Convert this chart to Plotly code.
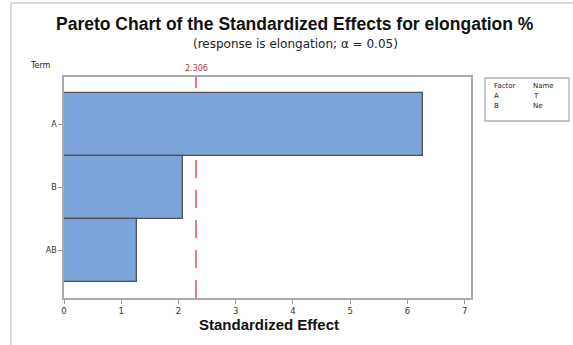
import plotly.graph_objects as go

terms = ["A", "B", "AB"]
effects = [6.28, 2.08, 1.28]
critical = 2.306
x_ticks = [0, 1, 2, 3, 4, 5, 6, 7]
factors = ["A", "B"]
names = ["T", "Ne"]

W, H = 573, 345
L, R, T, B = 64, 102, 77, 47
pw, ph = W - L - R, H - T - B

def px(x):
    return (x - L) / pw

def py(y):
    return (H - B - y) / ph

FONT = "Liberation Sans, Arial, sans-serif"
SMALL = "DejaVu Sans, sans-serif"

fig = go.Figure()
fig.add_trace(go.Bar(
    y=terms, x=effects, orientation="h",
    marker=dict(color="#7BA5D8", line=dict(color="#4d4f55", width=1.3)),
    width=1.0, showlegend=False, hoverinfo="skip",
))

shapes = [
    dict(type="line", xref="x", yref="paper", x0=critical, x1=critical, y0=0, y1=1,
         line=dict(color="#d23a3a", width=1.3, dash="18px,12px"), layer="below"),
    # outer frame
    dict(type="rect", xref="paper", yref="paper", x0=px(11), x1=px(600), y0=py(400), y1=py(3),
         line=dict(color="#d0d0d0", width=1.5), layer="below"),
    # legend box
    dict(type="rect", xref="paper", yref="paper", x0=px(485), x1=px(569), y0=py(78), y1=py(121),
         line=dict(color="#b0b0b0", width=1.3), fillcolor="white"),
]

annotations = [
    dict(text="<b>Pareto Chart of the Standardized Effects for elongation %</b>",
         xref="paper", yref="paper", x=px(295), y=py(24), showarrow=False,
         font=dict(size=17.5, color="#111", family=FONT), xanchor="center", yanchor="middle"),
    dict(text="(response is elongation; α = 0.05)",
         xref="paper", yref="paper", x=px(295), y=py(44), showarrow=False,
         font=dict(size=12, color="#222", family=SMALL), xanchor="center", yanchor="middle"),
    dict(text="Term", xref="paper", yref="paper", x=px(28), y=py(65), showarrow=False,
         font=dict(size=8, color="#222", family=SMALL), xanchor="left", yanchor="middle"),
    dict(text=f"{critical:.3f}", xref="x", yref="paper", x=critical, y=py(69), showarrow=False,
         font=dict(size=8, color="#b33a3a", family=SMALL), xanchor="center", yanchor="middle"),
    dict(text="<b>Standardized Effect</b>", xref="paper", yref="paper", x=px(269), y=py(324),
         showarrow=False, font=dict(size=15, color="#111", family=FONT),
         xanchor="center", yanchor="middle"),
]

rows = [("Factor", "Name")] + list(zip(factors, names))
for i, (f, n) in enumerate(rows):
    yy = py(86 + i * 10)
    annotations.append(dict(text=f, xref="paper", yref="paper", x=px(492), y=yy, showarrow=False,
                            font=dict(size=7, color="#222", family=SMALL), xanchor="left", yanchor="middle"))
    annotations.append(dict(text=n, xref="paper", yref="paper", x=px(531), y=yy, showarrow=False,
                            font=dict(size=7, color="#222", family=SMALL), xanchor="left", yanchor="middle"))

fig.update_layout(
    width=W, height=H, margin=dict(l=L, r=R, t=T, b=B, pad=0),
    paper_bgcolor="white", plot_bgcolor="white",
    bargap=0, shapes=shapes, annotations=annotations,
    font=dict(family=SMALL, size=8, color="#333"),
    xaxis=dict(range=[0, 7.11], tickvals=x_ticks, ticks="outside", ticklen=4, tickcolor="#999",
               showgrid=False, zeroline=False, showline=True, linecolor="#aaa", linewidth=1.5,
               mirror=True, tickfont=dict(size=8.5, color="#333", family=SMALL), fixedrange=True),
    yaxis=dict(range=[2.76, -0.75], ticks="outside", ticklen=4, tickcolor="#999",
               showgrid=False, zeroline=False, showline=True, linecolor="#aaa", linewidth=1.5,
               mirror=True, tickfont=dict(size=8, color="#333", family=SMALL), fixedrange=True),
)

fig.write_html("out.html", config={"displayModeBar": False},
               post_script="document.body.style.margin='0';document.body.style.overflow='hidden';")
